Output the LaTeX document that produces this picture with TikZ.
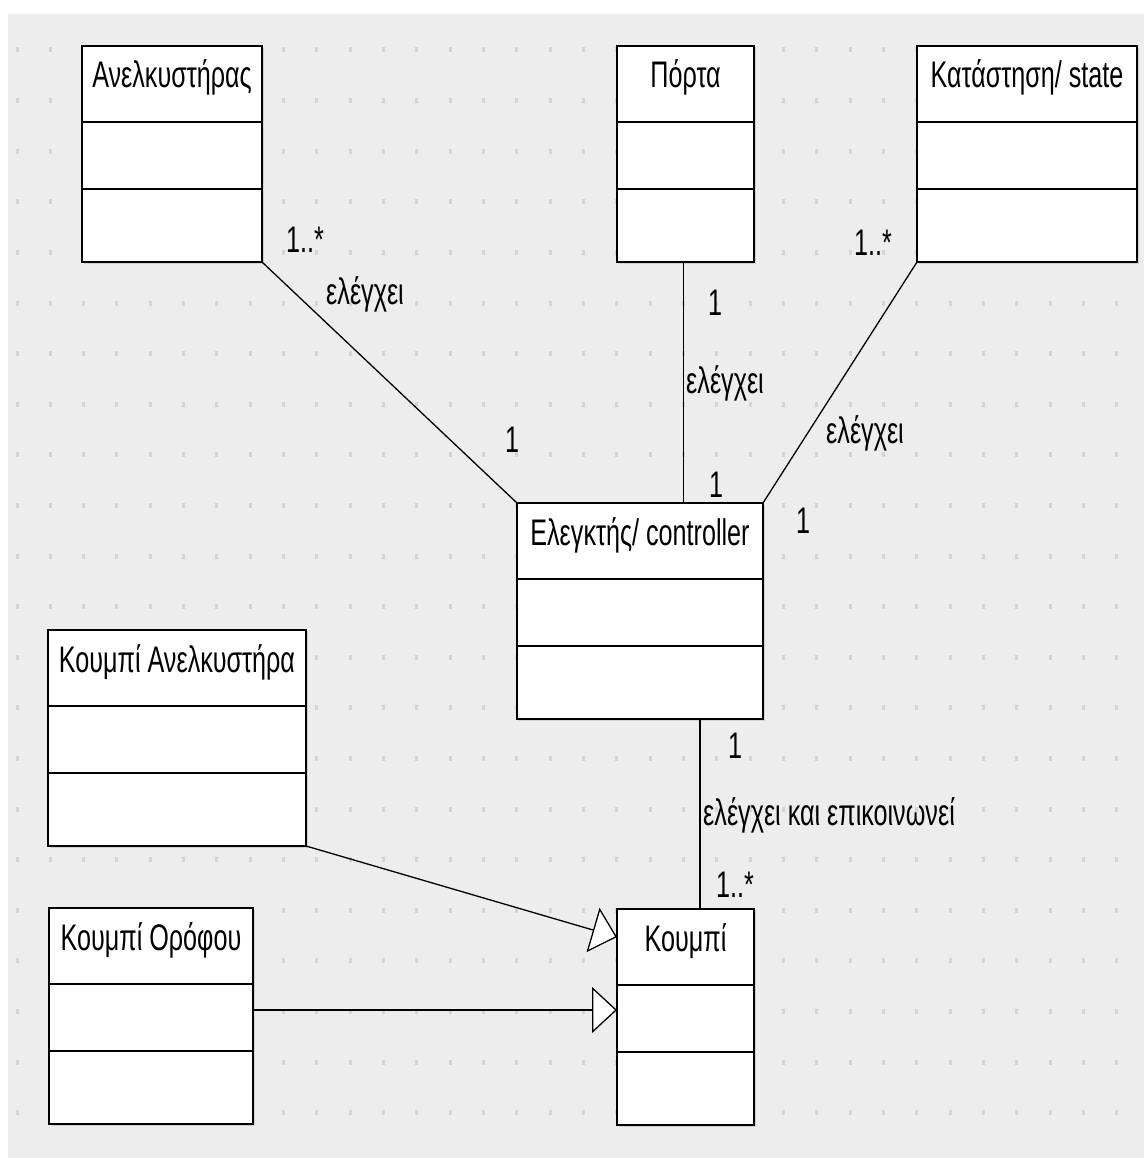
\documentclass[tikz,border=0pt]{standalone}
\usepackage{fontspec}
\setmainfont{Liberation Sans}[FakeStretch=0.68]
\usetikzlibrary{
  arrows.meta,
  shadows
}
\newcommand{\umlfont}{\fontsize{37}{42}\selectfont}
\tikzset{
  cls/.style={
    draw,
    line width=1.6pt,
    fill=white,
    minimum height=216pt,
    inner sep=0pt,
    outer sep=0pt,
    anchor=north west,
    drop shadow={shadow xshift=2pt, shadow yshift=-2pt, opacity=0.25},
  },
  clsname/.style={
    font=\umlfont,
    anchor=base,
    inner sep=0pt,
  },
  compline/.style={
    line width=1.6pt,
  },
  assoc/.style={
    line width=1.3pt,
  },
  gen/.style={
    assoc,
    -{Triangle[length=25pt, width=46pt, fill=white, line width=1.3pt]},
  },
  mult/.style={
    font=\umlfont,
    anchor=base,
    inner sep=0pt,
  },
  griddot/.style={
    fill=black!17,
  },
}
% name, left, top, width, title
\newcommand{\umlclass}[5]{
  \node[cls, minimum width=#4pt] (#1) at (#2,#3) {};
  \node[clsname] at ([yshift=-42pt]#1.north) {#5};
  \draw[compline] ([yshift=-76pt]#1.north west) -- ([yshift=-76pt]#1.north east);
  \draw[compline] ([yshift=-143pt]#1.north west) -- ([yshift=-143pt]#1.north east);
}

\begin{document}
\begin{tikzpicture}[x=1pt, y=-1pt]
  \useasboundingbox (0,0) rectangle (1144,1158);
  \fill[white] (0,0) rectangle (1144,1158);
  \fill[black!7] (8,14) rectangle (1144,1158);

  % grid
  \foreach \i in {0,...,33}
    \foreach \j in {0,...,21}
      \fill[griddot] (15.5+33.33*\i, 47.5+50.6*\j) rectangle ++(3,5);

  % classes
  \umlclass{elev}{82}{46}{180}{Ανελκυστήρας}
  \umlclass{door}{617}{46}{137}{Πόρτα}
  \umlclass{state}{917}{46}{220}{Κατάστηση/ state}
  \umlclass{ctrl}{517}{503}{246}{Ελεγκτής/ controller}
  \umlclass{liftbtn}{48}{630}{258}{Κουμπί Ανελκυστήρα}
  \umlclass{floorbtn}{49}{908}{204}{Κουμπί Ορόφου}
  \umlclass{btn}{617}{909}{137}{Κουμπί}

  % associations
  \draw[assoc] (elev.south east) -- (ctrl.north west);
  \draw[assoc] ([xshift=-2pt]door.south) -- ([xshift=-2pt]door.south |- ctrl.north);
  \draw[assoc] (state.south west) -- (ctrl.north east);
  \draw[assoc] ([xshift=60pt]ctrl.south) -- ([xshift=60pt]ctrl.south |- btn.north);

  % generalizations
  \draw[gen] (liftbtn.south east) -- ([yshift=-28pt]btn.north west);
  \draw[gen] ([yshift=-102pt]floorbtn.north east) -- ([yshift=-102pt]floorbtn.north east -| btn.west);

  % labels
  \node[mult] at (305,252) {1..*};
  \node[mult] at (365,304) {ελέγχει};
  \node[mult] at (512,452) {1};
  \node[mult] at (715,315) {1};
  \node[mult, anchor=base west] at (686,393) {ελέγχει};
  \node[mult] at (716,497) {1};
  \node[mult] at (873,255) {1..*};
  \node[mult] at (865,443) {ελέγχει};
  \node[mult] at (803,533) {1};
  \node[mult] at (735,758) {1};
  \node[mult, anchor=base west] at (703,825) {ελέγχει και επικοινωνεί};
  \node[mult] at (735,897) {1..*};
\end{tikzpicture}
\end{document}
